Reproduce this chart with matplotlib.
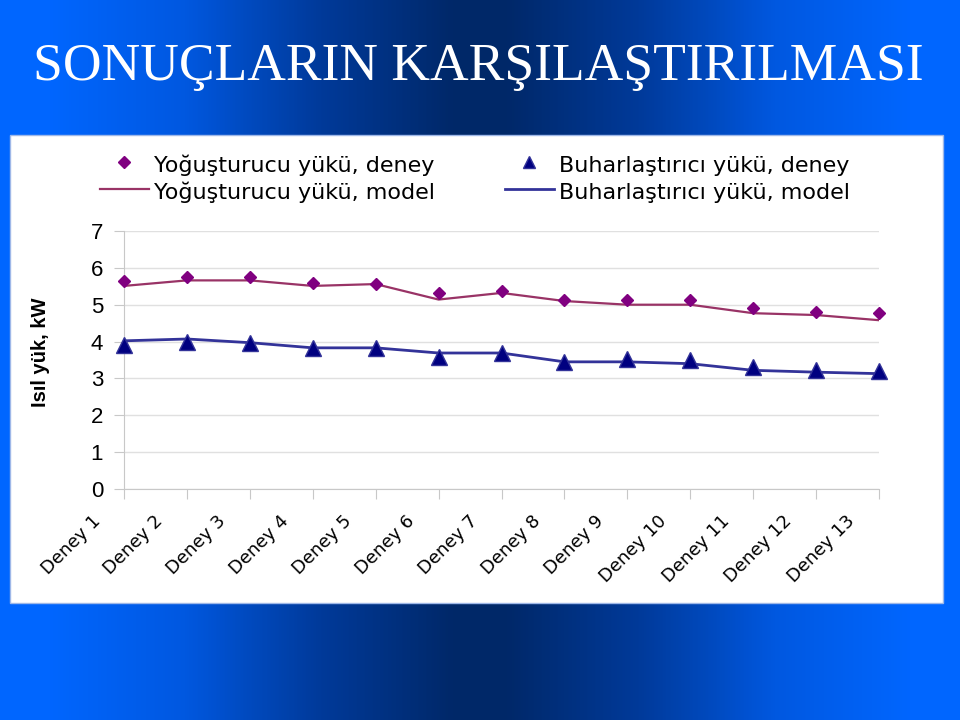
import numpy as np
import matplotlib
matplotlib.use('Agg')
import matplotlib.pyplot as plt
import matplotlib.transforms as mtransforms
from matplotlib.colors import LinearSegmentedColormap

# category labels and read-off values (kW)
deneyler = ['Deney %d' % i for i in range(1, 14)]
yog_deney = [5.65, 5.74, 5.74, 5.59, 5.56, 5.32, 5.37, 5.14, 5.14, 5.14, 4.90, 4.81, 4.77]
yog_model = [5.51, 5.66, 5.66, 5.51, 5.56, 5.14, 5.32, 5.10, 5.00, 5.00, 4.77, 4.72, 4.58]
buh_deney = [3.90, 4.00, 3.95, 3.82, 3.82, 3.58, 3.68, 3.45, 3.54, 3.49, 3.31, 3.24, 3.19]
buh_model = [4.02, 4.07, 3.97, 3.83, 3.83, 3.69, 3.69, 3.45, 3.45, 3.40, 3.22, 3.17, 3.13]

fig = plt.figure(figsize=(9.6, 7.2), dpi=100)

# slide background: blue gradient, dark in the middle
bg = fig.add_axes([0, 0, 1, 1], zorder=-10)
bg.set_axis_off()
cmap = LinearSegmentedColormap.from_list('slide', ['#0066ff', '#0058e0', '#003a9a', '#002868'])
grad = np.abs(np.linspace(-1, 1, 960))
grad = 1 - np.clip((grad - 0.05) / 0.85, 0, 1)
bg.imshow(grad[np.newaxis, :], aspect='auto', cmap=cmap, extent=[0, 1, 0, 1])
bg.set_xlim(0, 1)
bg.set_ylim(0, 1)
# white panel behind the chart
bg.add_patch(plt.Rectangle((10 / 960, 1 - 603 / 720), 933 / 960, 468 / 720,
                           facecolor='white', edgecolor='#9fb8e8', linewidth=1))

fig.text(0.498, 1 - 80 / 720, 'SONUÇLARIN KARŞILAŞTIRILMASI', color='white',
         fontsize=38.5, family='Liberation Serif', ha='center', va='baseline')

ax = fig.add_axes([124 / 960, 1 - 489 / 720, 755 / 960, 258 / 720])
ax.set_facecolor('none')
x = np.arange(len(deneyler))

l1, = ax.plot(x, yog_deney, linestyle='none', marker='D', markersize=6,
              color='#800080', label='Yoğuşturucu yükü, deney', zorder=4, clip_on=False)
l2, = ax.plot(x, yog_model, color='#993366', linewidth=1.6,
              label='Yoğuşturucu yükü, model', zorder=3)
l3, = ax.plot(x, buh_deney, linestyle='none', marker='^', markersize=12,
              color='#000080', markeredgecolor='#333399', label='Buharlaştırıcı yükü, deney',
              zorder=4, clip_on=False)
l4, = ax.plot(x, buh_model, color='#333399', linewidth=2,
              label='Buharlaştırıcı yükü, model', zorder=3)

ax.set_xlim(0, 12)
ax.set_ylim(0, 7)
ax.set_yticks(range(0, 8))
ax.set_xticks(x)
ax.set_xticklabels([])
# rotated category labels, sitting a little left of their ticks as in the slide
shift = mtransforms.ScaledTranslation(-0.33, -0.23, fig.dpi_scale_trans)
for xi, name in zip(x, deneyler):
    ax.text(xi, 0, name, transform=ax.get_xaxis_transform() + shift, rotation=45,
            ha='right', va='top', rotation_mode='anchor', fontsize=13, family='DejaVu Sans')
for lab in ax.get_yticklabels():
    lab.set_fontsize(16)
    lab.set_family('Liberation Sans')
ax.grid(axis='y', color='#e0e0e0', linewidth=1)
ax.set_axisbelow(True)
for s in ['top', 'right']:
    ax.spines[s].set_visible(False)
ax.spines['left'].set_color('#c8c8c8')
ax.spines['bottom'].set_color('#c8c8c8')
ax.tick_params(axis='both', colors='#c8c8c8', labelcolor='black', length=7)
ax.tick_params(axis='y', pad=8)

fig.text(40 / 960, 1 - 352 / 720, 'Isıl yük, kW', rotation=90, fontsize=14.5,
         fontweight='bold', family='Liberation Sans', ha='center', va='center')

leg_kw = dict(frameon=False, borderpad=0, borderaxespad=0, numpoints=1,
              handlelength=2.2, handletextpad=0.25, labelspacing=0.17, handleheight=1.2,
              prop={'family': 'DejaVu Sans', 'size': 16})
leg1 = fig.legend(handles=[l1, l2], loc='upper left',
                  bbox_to_anchor=(100 / 960, 1 - 153 / 720), **leg_kw)
leg2 = fig.legend(handles=[l3, l4], loc='upper left', markerscale=0.75,
                  bbox_to_anchor=(505 / 960, 1 - 153 / 720), **leg_kw)

fig.savefig('out.png', dpi=100)
